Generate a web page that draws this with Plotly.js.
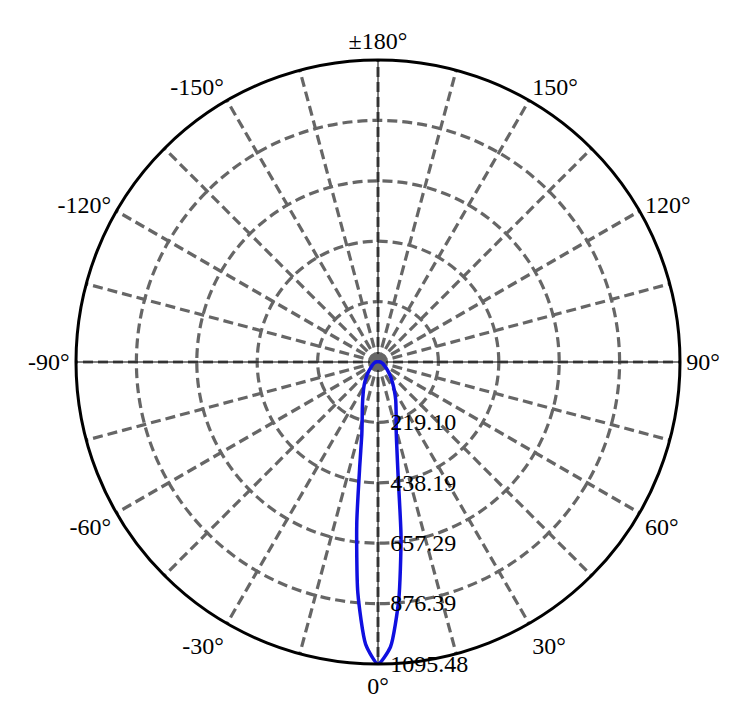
<!DOCTYPE html>
<html>
<head>
<meta charset="utf-8">
<script src="https://cdn.plot.ly/plotly-3.0.1.min.js"></script>
<style>
  html, body { margin: 0; padding: 0; background: #fff; }
  #polarChart { width: 738px; height: 721px; }
</style>
</head>
<body>
<div id="polarChart"></div>
<script>
// angles in degrees (C0-C180 plane), intensity in cd
const angles = [-180, -160, -140, -120, -100, -90, -80, -70, -60, -55, -50, -45, -40, -35, -30, -25, -20, -17.5, -15, -12.5, -10, -7.5, -5, -2.5,
  0, 2.5, 5, 7.5, 10, 12.5, 15, 17.5, 20, 25, 30, 35, 40, 45, 50, 55, 60, 70, 80, 90, 100, 120, 140, 160, 180];
const intensity = [1, 1, 1, 2, 4, 8, 12, 17, 24, 29, 37, 48, 62, 80, 102, 128, 165, 190, 222, 272, 380, 590, 840, 1025,
  1095.48, 1035, 865, 640, 420, 315, 255, 220, 192, 152, 118, 92, 72, 56, 44, 34, 27, 19, 13, 8, 4, 2, 1, 1, 1];

const rMax = 1095.48;
const radialTicks = [219.10, 438.19, 657.29, 876.39, 1095.48];
const radialLabels = ['219.10', '438.19', '657.29', '876.39', '1095.48'];

const angleTicks = [0, 15, 30, 45, 60, 75, 90, 105, 120, 135, 150, 165, 180, 195, 210, 225, 240, 255, 270, 285, 300, 315, 330, 345];
const angleLabels = ['0°', '', '30°', '', '60°', '', '90°', '', '120°', '', '150°', '', '±180°', '', '-150°', '', '-120°', '', '-90°', '', '-60°', '', '-30°', ''];

const gridDash = '10px,5px';
const gridColor = '#666666';
const labelFont = {family: 'Liberation Serif', size: 24, color: '#000000'};

let data = [];

// thin black cross through the centre
data.push({
  type: 'scatterpolar', mode: 'lines',
  r: [rMax, 0, rMax], theta: [0, 0, 180],
  line: {color: '#000000', width: 1}, hoverinfo: 'skip'
});
data.push({
  type: 'scatterpolar', mode: 'lines',
  r: [rMax, 0, rMax], theta: [90, 90, 270],
  line: {color: '#000000', width: 1}, hoverinfo: 'skip'
});

// grey dot at the origin
data.push({
  type: 'scatterpolar', mode: 'markers',
  r: [0], theta: [0],
  marker: {color: gridColor, size: 16}, hoverinfo: 'skip'
});

// the intensity curve
data.push({
  type: 'scatterpolar', mode: 'lines',
  r: intensity, theta: angles,
  line: {color: '#1010e0', width: 3.5, shape: 'spline', smoothing: 0.6},
  name: 'C0-C180'
});

const layout = {
  width: 738, height: 721,
  margin: {l: 76, r: 58, t: 60, b: 57},
  paper_bgcolor: '#ffffff',
  showlegend: false,
  font: labelFont,
  polar: {
    bgcolor: '#ffffff',
    angularaxis: {
      rotation: -90, direction: 'counterclockwise',
      tickmode: 'array', tickvals: angleTicks, ticktext: angleLabels,
      ticks: '', tickfont: labelFont,
      showline: true, linecolor: '#000000', linewidth: 3,
      gridcolor: gridColor, gridwidth: 3.2, griddash: gridDash
    },
    radialaxis: {
      range: [0, rMax], angle: -90, side: 'counterclockwise', tickangle: -90,
      tickmode: 'array', tickvals: radialTicks, ticktext: radialLabels,
      ticks: 'outside', ticklen: 7, tickcolor: 'rgba(0,0,0,0)',
      showline: false, tickfont: labelFont,
      gridcolor: gridColor, gridwidth: 3.2, griddash: gridDash
    }
  }
};

Plotly.newPlot('polarChart', data, layout, {displayModeBar: false, staticPlot: true});
</script>
</body>
</html>
